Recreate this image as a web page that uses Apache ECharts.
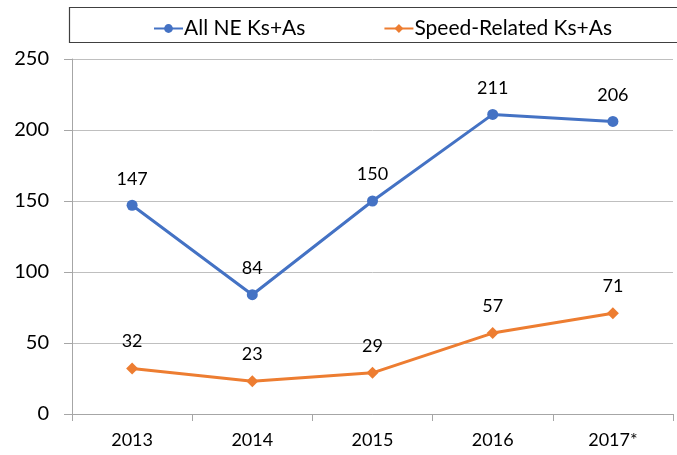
<!DOCTYPE html>
<html>
<head>
<meta charset="utf-8">
<script src="https://cdn.jsdelivr.net/npm/echarts@6/dist/echarts.min.js"></script>
<style>
  html, body { margin: 0; padding: 0; background: #fff; }
  #chart { width: 677px; height: 455px; }
</style>
</head>
<body>
<div id="chart"></div>
<script>
var years = ['2013', '2014', '2015', '2016', '2017*'];
var allNE = [147, 84, 150, 211, 206];
var speedRelated = [32, 23, 29, 57, 71];

(function drawLine() {
    var chartDom = document.getElementById('chart');
    var myChart = echarts.init(chartDom);
    var option;
    var font = 'Lato, "Open Sans", sans-serif';

    option = {
        backgroundColor: '#fff',
        color: ['#4472C4', '#ED7D31'],
        textStyle: { fontFamily: font },
        graphic: [
            {
                type: 'rect',
                shape: { x: 69.5, y: 7.5, width: 640, height: 35 },
                style: { fill: 'none', stroke: '#404040', lineWidth: 1.2 },
                silent: true
            }
        ],
        legend: {
            left: 148,
            top: 13,
            itemGap: 78,
            itemWidth: 29,
            itemHeight: 11,
            textStyle: { fontSize: 21, color: '#000', fontFamily: font, padding: [0, 0, 0, -4] },
            data: ['All NE Ks+As', 'Speed-Related Ks+As']
        },
        grid: {
            left: 72,
            right: 4,
            top: 59,
            bottom: 41
        },
        xAxis: {
            type: 'category',
            data: years,
            axisLine: { lineStyle: { color: '#a6a6a6' } },
            axisTick: { show: true, length: 7, lineStyle: { color: '#a6a6a6' } },
            axisLabel: { color: '#000', fontSize: 18, margin: 17, fontFamily: font }
        },
        yAxis: {
            type: 'value',
            min: 0,
            max: 250,
            interval: 50,
            axisLine: { show: true, lineStyle: { color: '#a6a6a6' } },
            axisTick: { show: true, length: 8, lineStyle: { color: '#a6a6a6' } },
            axisLabel: { color: '#000', fontSize: 20, margin: 23, fontFamily: font },
            splitLine: { lineStyle: { color: '#bfbfbf' } }
        },
        series: [
            {
                name: 'All NE Ks+As',
                type: 'line',
                data: allNE,
                symbol: 'circle',
                symbolSize: 11,
                lineStyle: { width: 3 },
                label: { show: true, position: 'top', distance: 12, color: '#000', fontSize: 18, fontFamily: font }
            },
            {
                name: 'Speed-Related Ks+As',
                type: 'line',
                data: speedRelated,
                symbol: 'diamond',
                symbolSize: 12,
                lineStyle: { width: 3 },
                label: { show: true, position: 'top', distance: 12, color: '#000', fontSize: 18, fontFamily: font }
            }
        ]
    };

    option && myChart.setOption(option);
})();
</script>
</body>
</html>
